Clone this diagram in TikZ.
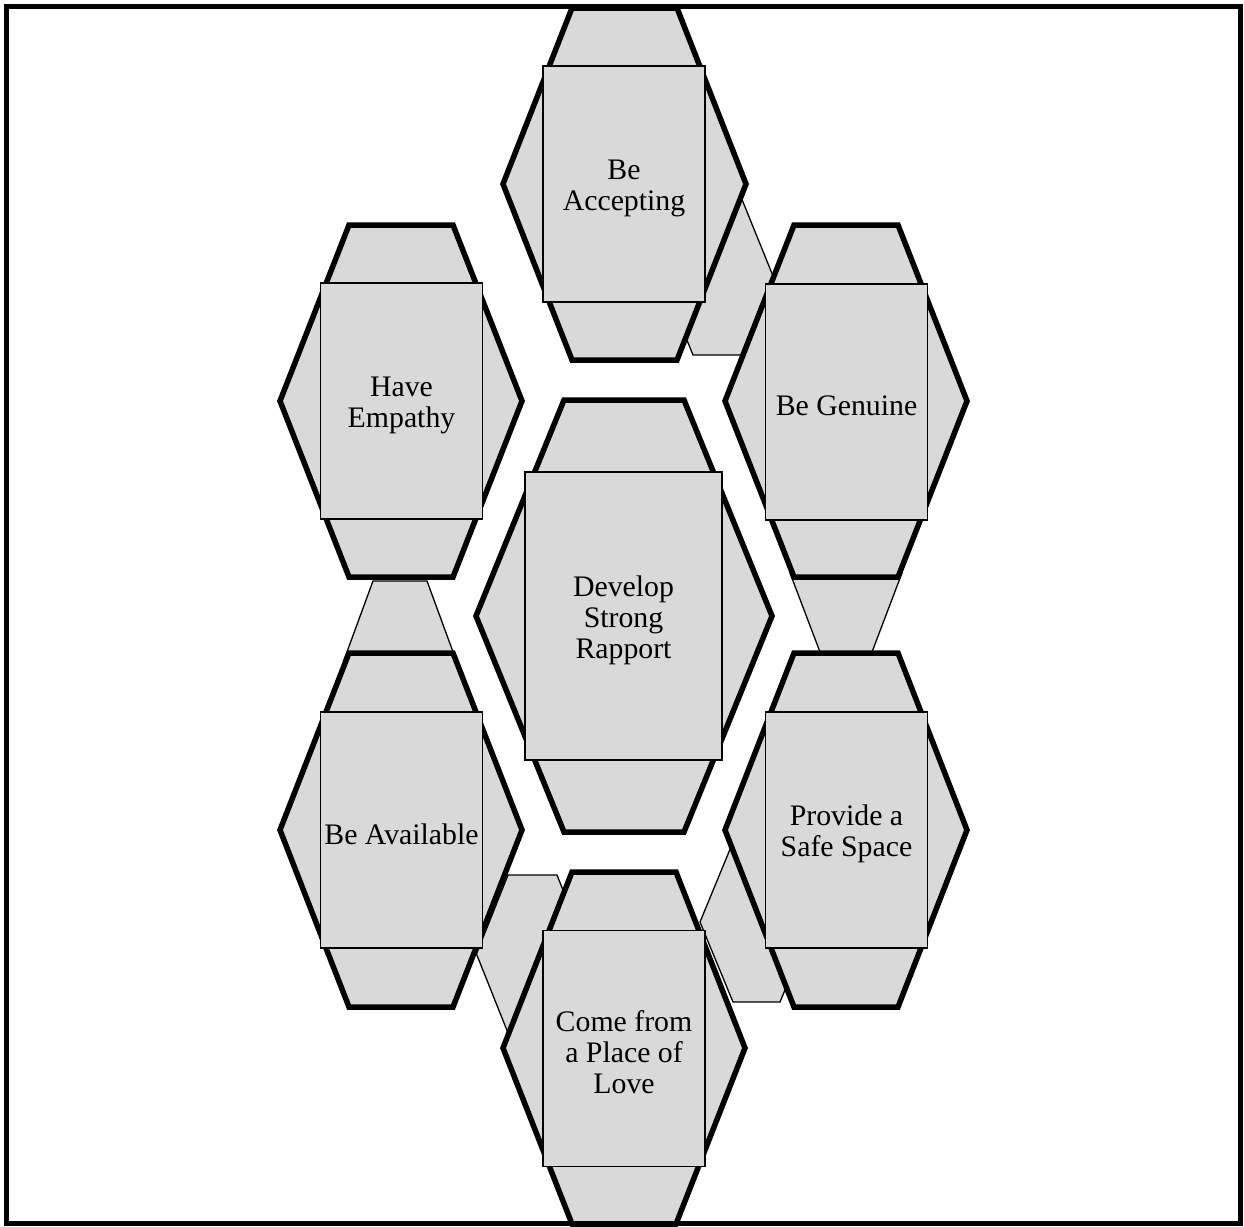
\documentclass[tikz,border=0pt]{standalone}
\usepackage{fontspec}
\setmainfont{Liberation Serif}
\definecolor{hexgray}{RGB}{217,217,217}
\tikzset{
  x=1pt,y=-1pt,
  bighex/.style={draw=black,fill=hexgray,line width=5.5pt,line join=miter},
  linkhex/.style={draw=black,fill=hexgray,line width=1.3pt,line join=miter},
  textbox/.style={draw=black,fill=hexgray,line width=1.6pt,inner sep=0pt},
  outerbox/.style={textbox,minimum width=162pt,minimum height=236pt},
  centerbox/.style={textbox,minimum width=197pt,minimum height=288pt},
  boxlabel/.style={inner sep=0pt,align=center,font=\fontsize{29.8}{31}\selectfont},
  frame/.style={draw=black,line width=5pt}
}
% hexagon: style, cx, cy, half-height, half-width, half top width
\newcommand\myhexagon[6]{%
  \path[#1] ({#2-#5},{#3}) -- ({#2-#6},{#3-#4}) -- ({#2+#6},{#3-#4}) -- ({#2+#5},{#3})
    -- ({#2+#6},{#3+#4}) -- ({#2-#6},{#3+#4}) -- cycle;}
\begin{document}
\begin{tikzpicture}
\useasboundingbox (0,0) rectangle (1244,1226);
% small linking hexagons (behind)
\myhexagon{linkhex}{717}{276}{79}{56}{24}
\myhexagon{linkhex}{400}{660}{79}{56}{27}
\myhexagon{linkhex}{846}{573}{79}{56}{26}
\myhexagon{linkhex}{756.5}{922}{80}{56.5}{23.5}
\myhexagon{linkhex}{532.5}{954}{79}{56}{24.5}
% large hexagons
\myhexagon{bighex}{624.5}{184}{176}{121.5}{52.5}
\myhexagon{bighex}{401}{401}{176}{121}{52}
\myhexagon{bighex}{846}{401}{176}{121}{52}
\myhexagon{bighex}{624}{616}{216}{148}{60}
\myhexagon{bighex}{401}{830}{177}{121}{52}
\myhexagon{bighex}{846}{830}{177}{121}{52}
\myhexagon{bighex}{624}{1048}{176}{121}{52}
% text boxes
\node[outerbox]  (accept)  at (624,184)  {};
\node[outerbox]  (empathy) at (401.5,401) {};
\node[outerbox]  (genuine) at (846.5,402) {};
\node[centerbox] (rapport) at (623.5,616) {};
\node[outerbox]  (avail)   at (401.5,830) {};
\node[outerbox]  (safe)    at (846.5,830) {};
\node[outerbox]  (love)    at (624,1048.5) {};
\node[boxlabel] (acceptT)  at ([yshift=-4pt]accept.center)  {Be\\Accepting};
\node[boxlabel] (empathyT) at ([yshift=-4pt]empathy.center) {Have\\Empathy};
\node[boxlabel] (genuineT) at ([yshift=-4pt]genuine.center) {Be Genuine};
\node[boxlabel] (rapportT) at ([yshift=-4pt]rapport.center) {Develop\\Strong\\Rapport};
\node[boxlabel] (availT)   at ([yshift=-4pt]avail.center)   {Be Available};
\node[boxlabel] (safeT)    at ([yshift=-4pt]safe.center)    {Provide a\\Safe Space};
\node[boxlabel] (loveT)    at ([yshift=-4pt]love.center)    {Come from\\a Place of\\Love};
% outer frame
\path[frame] (6,6.5) rectangle (1240.5,1223.5);
\end{tikzpicture}
\end{document}
